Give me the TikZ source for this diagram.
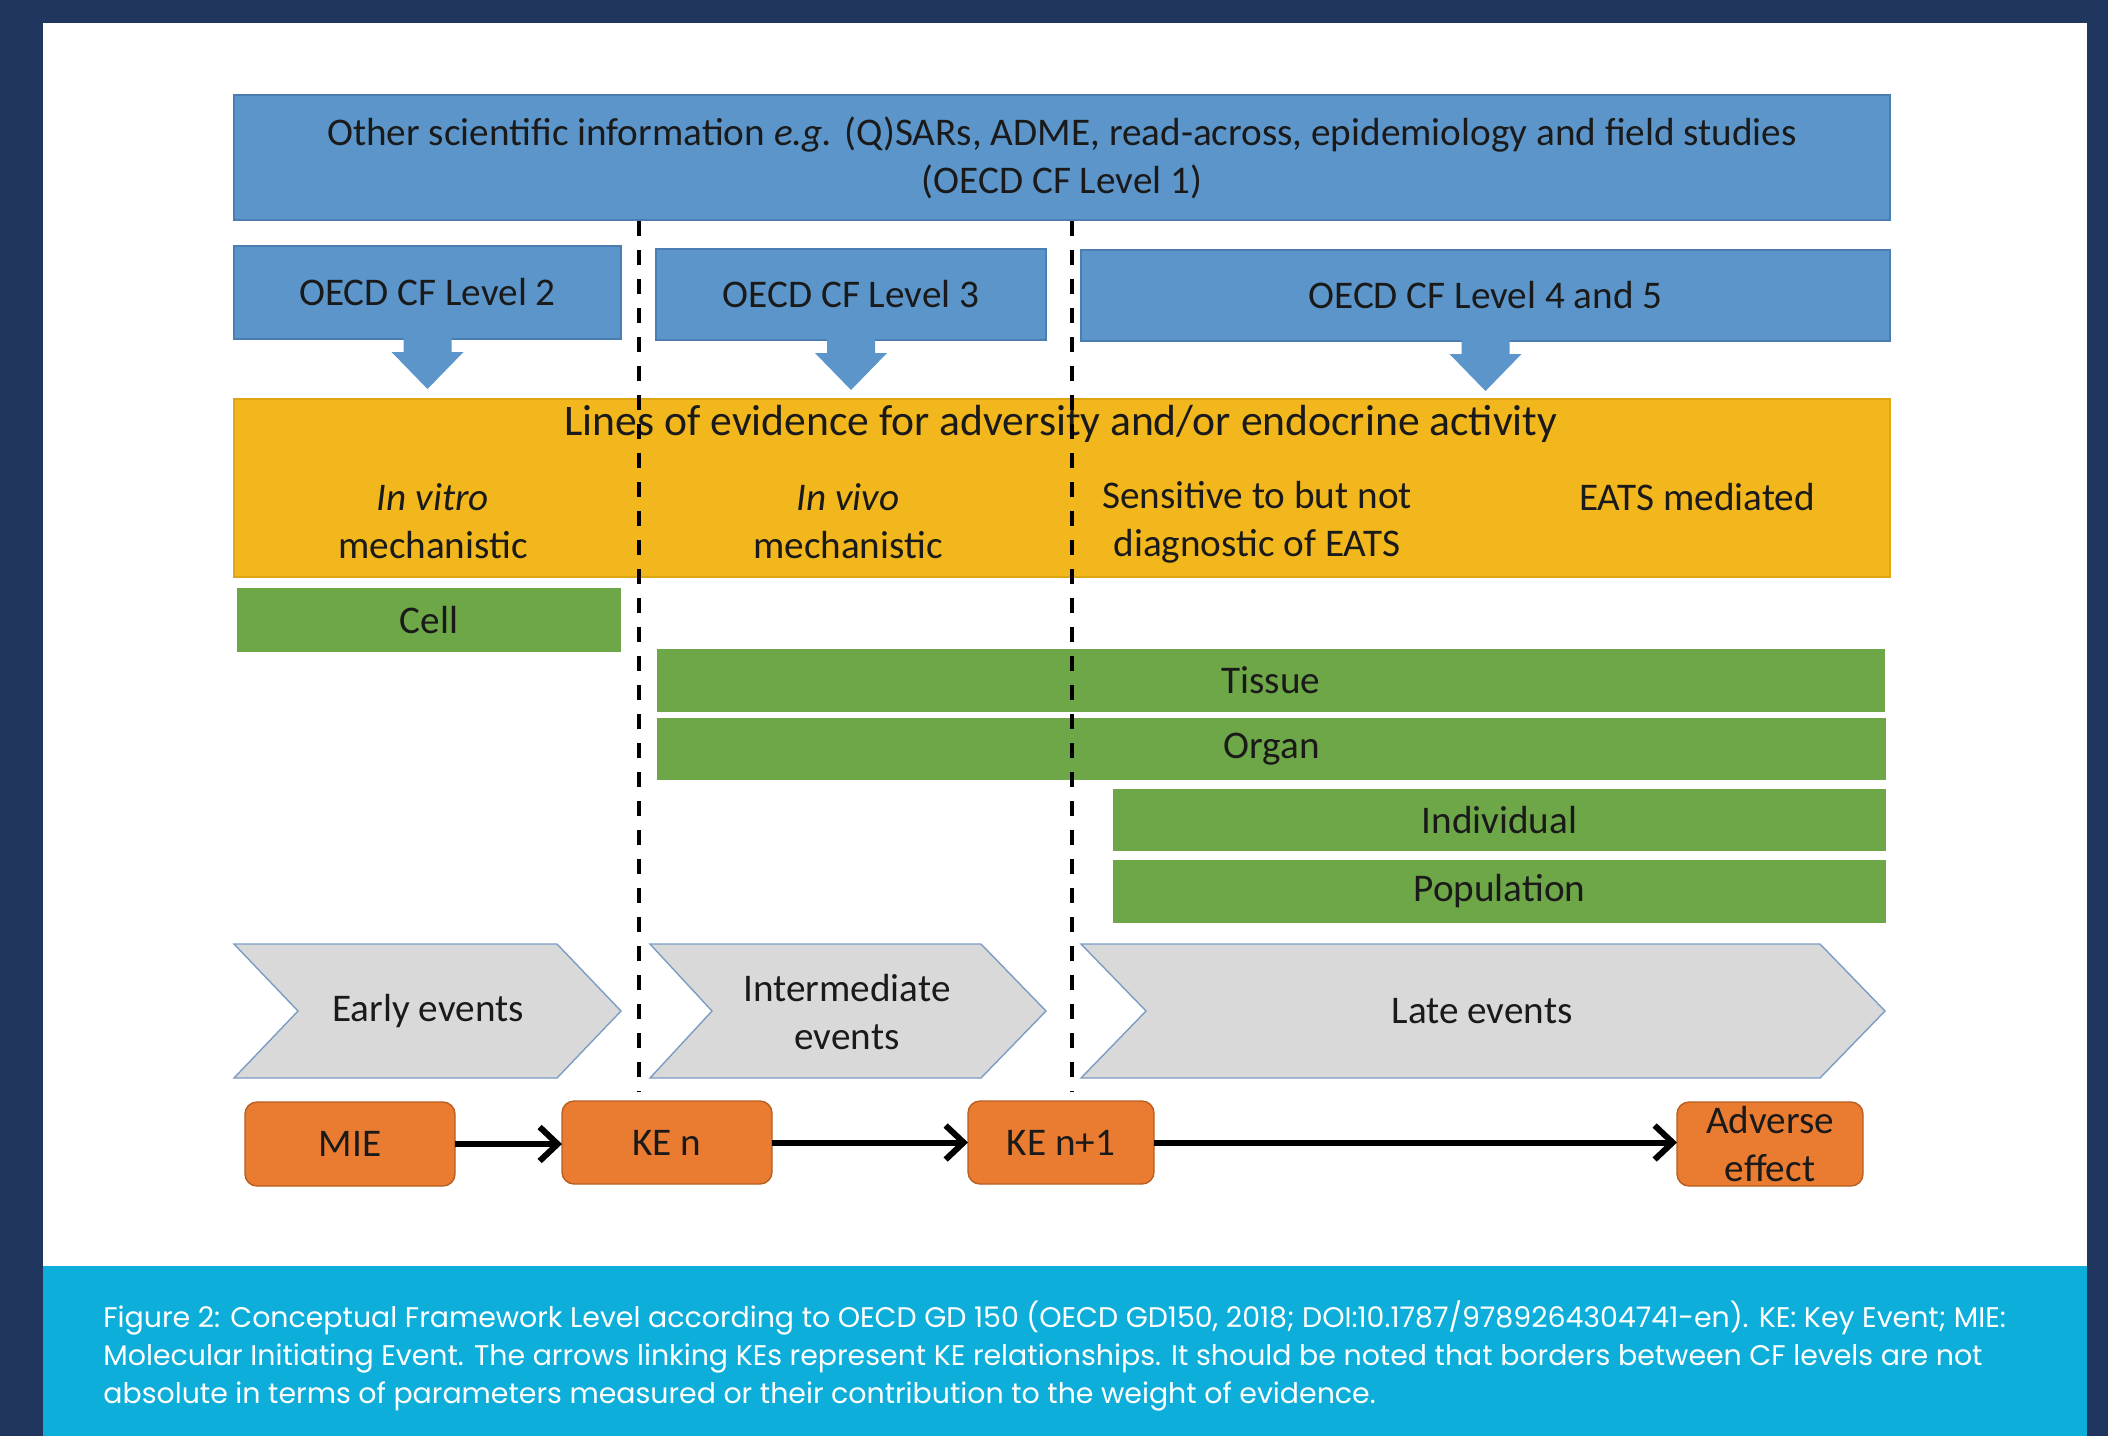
\documentclass[tikz,border=0pt]{standalone}
\usepackage{fontspec}
\setmainfont{Carlito}
\newfontfamily\capfont{Poppins}
\usetikzlibrary{arrows.meta}
\definecolor{framecol}{HTML}{20365F}
\definecolor{capbg}{HTML}{0EAEDB}
\definecolor{oblue}{HTML}{5B95CA}
\definecolor{oblueedge}{HTML}{4A7DB0}
\definecolor{ogold}{HTML}{F2B71D}
\definecolor{ogoldedge}{HTML}{E0A512}
\definecolor{ogreen}{HTML}{6DA747}
\definecolor{oorange}{HTML}{EA7C32}
\definecolor{oorangeedge}{HTML}{B85E20}
\definecolor{chevfill}{HTML}{D9D9D9}
\definecolor{chevedge}{HTML}{7C9CC4}
\definecolor{txt}{HTML}{1A1A1A}
\begin{document}
\begin{tikzpicture}[x=0.5pt,y=-0.5pt,
  bx/.style={inner sep=0pt, outer sep=0pt, anchor=north west, text=txt,
    font=\fontsize{19.6}{24}\selectfont, align=center},
  bluebox/.style={bx, fill=oblue, draw=oblueedge, line width=0.6pt},
  goldbox/.style={bx, fill=ogold, draw=ogoldedge, line width=0.6pt},
  greenbox/.style={bx, fill=ogreen},
  kebox/.style={bx, fill=oorange, draw=oorangeedge, line width=0.7pt, rounded corners=6pt},
  txtnode/.style={inner sep=0pt, text=txt, font=\fontsize{19.6}{24}\selectfont, align=center},
  chev/.style={fill=chevfill, draw=chevedge, line width=0.7pt},
  dashline/.style={black, line width=2pt, dash pattern=on 7.5pt off 7pt},
  kearrow/.style={black, line width=3pt, -{Straight Barb[length=9pt,width=17pt]}},
  blockarr/.style={fill=oblue}
]
\useasboundingbox (0,0) rectangle (2108,1436);
\fill[framecol] (0,0) rectangle (2108,1436);
\fill[white] (43,23) rectangle (2087,1266);
\fill[capbg] (43,1266) rectangle (2087,1436);

% Level boxes
\node[bluebox, minimum width=828pt, minimum height=62.5pt] (L1) at (234,95)
  {Other scientific information \textit{e.g.} (Q)SARs, ADME, read-across, epidemiology and field studies\\(OECD CF Level 1)};
\node[bluebox, minimum width=193.5pt, minimum height=46.5pt] (L2) at (234,246) {OECD CF Level 2};
\node[bluebox, minimum width=195pt, minimum height=45.5pt] (L3) at (656,249) {OECD CF Level 3};
\node[bluebox, minimum width=404.5pt, minimum height=45.5pt] (L45) at (1081,250) {OECD CF Level 4 and 5};

\foreach \b in {L2,L3,L45}{
  \fill[blockarr] ([xshift=-12pt,yshift=0.5pt]\b.south) -- ([xshift=-12pt,yshift=-6.5pt]\b.south)
    -- ([xshift=-18pt,yshift=-6.5pt]\b.south) -- ([yshift=-25pt]\b.south)
    -- ([xshift=18pt,yshift=-6.5pt]\b.south) -- ([xshift=12pt,yshift=-6.5pt]\b.south)
    -- ([xshift=12pt,yshift=0.5pt]\b.south) -- cycle;
}

% Lines of evidence
\node[goldbox, minimum width=828pt, minimum height=89pt] (LoE) at (234,399) {};
\node[txtnode, font=\fontsize{21.8}{26}\selectfont] (ytitle) at (1061,424) {Lines of evidence for adversity and/or endocrine activity};
\node[txtnode] (invitro) at (433,521.5) {\textit{In vitro}\\mechanistic};
\node[txtnode] (invivo) at (848,521.5) {\textit{In vivo}\\mechanistic};
\node[txtnode] (sens) at (1257,522.5) {Sensitive to but not\\diagnostic of EATS};
\node[txtnode] (eats) at (1697,497) {EATS mediated};

% Green bars
\node[greenbox, minimum width=192pt, minimum height=32pt] (cell) at (237,588) {Cell};
\node[greenbox, minimum width=614pt, minimum height=31.5pt] (tissue) at (657,649) {Tissue};
\node[greenbox, minimum width=614.5pt, minimum height=31pt] (organ) at (657,718) {Organ};
\node[greenbox, minimum width=386.5pt, minimum height=31pt] (indiv) at (1113,789) {Individual};
\node[greenbox, minimum width=386.5pt, minimum height=31.5pt] (popul) at (1113,860) {Population};

% Chevrons
\draw[chev] (234,944) -- (557,944) -- (621,1011) -- (557,1078) -- (234,1078) -- (298,1011) -- cycle;
\node[txtnode] (early) at (428,1011) {Early events};
\draw[chev] (650,944) -- (981,944) -- (1046,1011) -- (981,1078) -- (650,1078) -- (712,1011) -- cycle;
\node[txtnode] (inter) at (847,1012) {Intermediate\\events};
\draw[chev] (1081,944) -- (1820,944) -- (1885,1011) -- (1820,1078) -- (1081,1078) -- (1146,1011) -- cycle;
\node[txtnode] (late) at (1482,1011) {Late events};

% Dashed borders
\coordinate (d1t) at (639,221);
\coordinate (d1b) at (639,1092);
\coordinate (d2t) at (1072,221);
\coordinate (d2b) at (1072,1092);
\draw[dashline] (d1t) -- (d1b);
\draw[dashline] (d2t) -- (d2b);

% Key events
\node[kebox, minimum width=105pt, minimum height=42pt] (MIE) at (245,1102) {MIE};
\node[kebox, minimum width=105pt, minimum height=41.5pt] (KEn) at (562,1101) {KE n};
\node[kebox, minimum width=93pt, minimum height=41.5pt] (KEn1) at (968,1101) {KE n+1};
\node[kebox, minimum width=93pt, minimum height=42pt] (AE) at (1677,1102) {Adverse\\effect};

\draw[kearrow] (MIE.east) -- (MIE.east -| KEn.west);
\draw[kearrow] (KEn.east) -- (KEn.east -| KEn1.west);
\draw[kearrow] (KEn1.east) -- (KEn1.east -| AE.west);

% Caption
\node[anchor=base west, inner sep=0pt, text=white, align=left,
  font=\capfont\fontsize{14.2}{18.8}\selectfont] (cap) at (103,1403)
  {Figure 2: Conceptual Framework Level according to OECD GD 150 (OECD GD150, 2018; DOI:10.1787/9789264304741-en). KE: Key Event; MIE:\\
   Molecular Initiating Event. The arrows linking KEs represent KE relationships. It should be noted that borders between CF levels are not\\
   absolute in terms of parameters measured or their contribution to the weight of evidence.};
\end{tikzpicture}
\end{document}
